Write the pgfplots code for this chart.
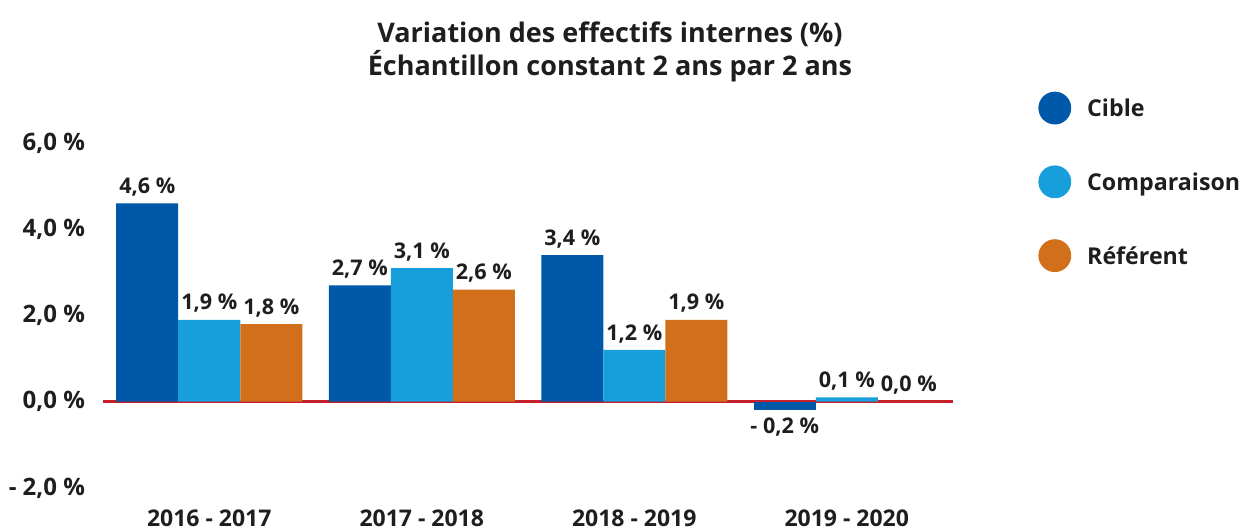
\documentclass[border=0pt]{standalone}
\usepackage{pgfplots}
\pgfplotsset{compat=1.18}
\usepackage{fontspec}
\setmainfont{Open Sans}
\definecolor{cible}{HTML}{0059A8}
\definecolor{comp}{HTML}{169FDB}
\definecolor{refe}{HTML}{D26F1B}
\definecolor{redline}{HTML}{C4202B}
\definecolor{txt}{HTML}{1E1E1E}
\begin{document}
\begin{tikzpicture}
\begin{axis}[
  at={(51.5pt,20.5pt)}, anchor=south west,
  width=425pt, height=172.5pt, scale only axis,
  xmin=-0.5, xmax=3.5, ymin=-2, ymax=6,
  ybar=0pt, bar width=31pt,
  axis line style={draw=none}, major tick style={draw=none},
  xtick={0,1,2,3},
  xticklabels={2016 - 2017, 2017 - 2018, 2018 - 2019, 2019 - 2020},
  ytick={-2,0,2,4,6},
  yticklabels={- 2{,}0 \%, 0{,}0 \%, 2{,}0 \%, 4{,}0 \%, 6{,}0 \%},
  yticklabel style={font=\bfseries\fontsize{12}{14}\selectfont, text=txt, xshift=-5.5pt},
  xticklabel style={font=\bfseries\fontsize{11.5}{14}\selectfont, text=txt, yshift=-3pt},
  extra y ticks={0}, extra y tick labels={},
  extra y tick style={grid=major, major grid style={draw=redline, line width=1.6pt}},
  nodes near coords, point meta=explicit symbolic,
  every node near coord/.append style={font=\bfseries\fontsize{10.8}{12}\selectfont, text=txt},
  legend style={at={(1.10,1.15)}, anchor=north west, draw=none, fill=none,
    inner sep=0pt, row sep=20.5pt, font=\bfseries\fontsize{11.6}{13}\selectfont, text=txt},
  legend cell align=left,
  clip=false,
]
\addplot[fill=cible, draw=none, forget plot, bar shift=-31pt] coordinates {(0,4.6) [4,6 \%] (1,2.7) [2,7 \%] (2,3.4) [3,4 \%]};
\addplot[fill=cible, draw=none, forget plot, bar shift=-31pt, every node near coord/.append style={anchor=north}] coordinates {(3,-0.2) [- 0,2 \%]};
\addplot[fill=comp, draw=none, forget plot, bar shift=0pt] coordinates {(0,1.9) [1,9 \%] (1,3.1) [3,1 \%] (2,1.2) [1,2 \%] (3,0.1) [0,1 \%]};
\addplot[fill=refe, draw=none, forget plot, bar shift=31pt] coordinates {(0,1.8) [1,8 \%] (1,2.6) [2,6 \%] (2,1.9) [1,9 \%] (3,0.0) [0,0 \%]};
\addlegendimage{legend image code/.code={\fill[cible] (8pt,0.6pt) circle (8pt); \path (22pt,0pt);}}
\addlegendentry{Cible}
\addlegendimage{legend image code/.code={\fill[comp] (8pt,0.6pt) circle (8pt); \path (22pt,0pt);}}
\addlegendentry{Comparaison}
\addlegendimage{legend image code/.code={\fill[refe] (8pt,0.6pt) circle (8pt); \path (22pt,0pt);}}
\addlegendentry{Référent}
\end{axis}
\node[font=\bfseries\fontsize{13.5}{16.5}\selectfont, text=txt, align=center] at (305pt,238.5pt)
  {Variation des effectifs internes (\%)\\Échantillon constant 2 ans par 2 ans};
\pgfresetboundingbox
\useasboundingbox (0,0) rectangle (621pt,264.5pt);
\end{tikzpicture}
\end{document}
